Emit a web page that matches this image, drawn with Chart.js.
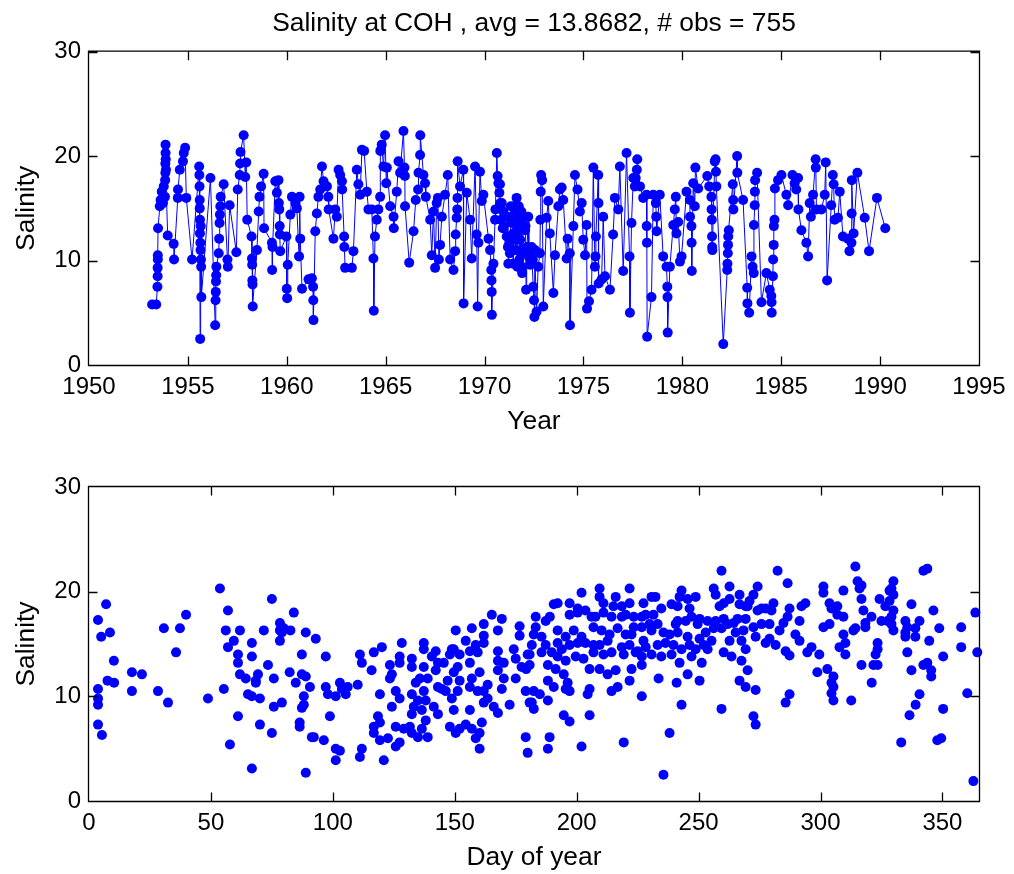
<!DOCTYPE html>
<html><head><meta charset="utf-8">
<script src="https://cdn.jsdelivr.net/npm/chart.js@4.4.1/dist/chart.umd.min.js"></script>
<style>
html,body{margin:0;padding:0;background:#fff;}
#wrap{position:relative;width:1014px;height:874px;background:#fff;}
#c1{position:absolute;left:0;top:0;}
#c2{position:absolute;left:0;top:440px;}
</style></head>
<body><div id="wrap"><canvas id="c1" width="1014" height="440"></canvas><canvas id="c2" width="1014" height="434"></canvas></div>
<script>
// ---------------- DATA ----------------
const chartTitle = "Salinity at COH , avg = 13.8682, # obs = 755";
const yearTicks = [1950,1955,1960,1965,1970,1975,1980,1985,1990,1995];
const dayTicks = [0,50,100,150,200,250,300,350];
const salinityTicks = [0,10,20,30];

// [decimal year, salinity] in time order
const yearSeries = [
[1953.19,5.8],[1953.40,5.8],[1953.46,7.5],[1953.47,8.5],[1953.47,9.3],[1953.48,10.1],[1953.48,10.5],[1953.49,13.1],[1953.58,15.2],[1953.62,15.8],
[1953.68,16.6],[1953.74,15.5],[1953.78,17.1],[1953.84,16.1],[1953.85,17.7],[1953.86,18.4],[1953.86,19.3],[1953.87,20.3],[1953.87,21.1],[1953.88,19.7],
[1953.89,18.7],[1953.98,12.4],[1954.28,11.6],[1954.30,10.1],[1954.49,16.0],[1954.50,16.8],[1954.59,18.7],[1954.75,19.5],[1954.79,20.3],[1954.86,20.8],
[1954.92,16.0],[1955.21,10.1],[1955.57,19.0],[1955.58,18.2],[1955.59,17.1],[1955.60,15.8],[1955.60,15.0],[1955.61,13.9],[1955.61,12.6],[1955.62,2.5],
[1955.63,11.7],[1955.64,11.0],[1955.65,13.3],[1955.66,10.1],[1955.67,9.4],[1955.68,6.5],[1956.14,17.9],[1956.38,3.8],[1956.40,6.2],[1956.41,7.0],
[1956.42,8.0],[1956.43,8.6],[1956.44,9.4],[1956.56,10.7],[1956.58,12.1],[1956.60,13.6],[1956.62,14.4],[1956.64,15.2],[1956.66,16.1],[1956.81,17.3],
[1957.00,10.1],[1957.02,9.4],[1957.11,15.3],[1957.45,10.8],[1957.52,16.8],[1957.62,18.2],[1957.64,19.3],[1957.66,20.4],[1957.82,22.0],[1957.90,18.0],
[1957.95,19.4],[1958.00,13.9],[1958.22,12.3],[1958.24,10.2],[1958.25,9.6],[1958.26,8.1],[1958.27,7.7],[1958.28,5.6],[1958.49,11.0],[1958.58,14.7],
[1958.62,16.1],[1958.70,17.1],[1958.83,18.3],[1958.85,13.1],[1959.25,11.7],[1959.26,9.1],[1959.28,11.3],[1959.42,17.6],[1959.50,16.5],[1959.58,17.7],
[1959.60,15.5],[1959.62,14.9],[1959.64,13.3],[1959.65,12.5],[1959.67,10.9],[1959.98,12.3],[1960.00,7.3],[1960.02,6.4],[1960.05,9.6],[1960.18,14.4],
[1960.26,16.1],[1960.43,15.5],[1960.51,15.0],[1960.62,10.4],[1960.65,16.1],[1960.68,12.1],[1960.77,7.3],[1961.10,8.2],[1961.27,8.3],[1961.33,7.5],
[1961.34,6.2],[1961.35,4.3],[1961.44,12.8],[1961.52,14.5],[1961.60,16.1],[1961.69,16.8],[1961.78,19.0],[1961.86,17.6],[1962.03,17.1],[1962.10,16.1],
[1962.12,14.9],[1962.36,12.1],[1962.45,14.9],[1962.53,14.2],[1962.62,18.7],[1962.70,18.2],[1962.79,17.6],[1962.80,16.8],[1962.90,12.3],[1962.91,11.3],
[1962.95,9.3],[1963.29,9.3],[1963.37,10.9],[1963.54,18.7],[1963.62,17.3],[1963.71,16.3],[1963.80,20.6],[1963.91,20.5],[1964.05,16.6],[1964.13,14.9],
[1964.30,14.9],[1964.38,10.2],[1964.40,5.2],[1964.46,12.3],[1964.55,13.9],[1964.63,14.9],[1964.72,16.1],[1964.73,20.5],[1964.80,21.1],[1964.89,19.0],
[1964.97,22.0],[1965.03,17.4],[1965.06,18.9],[1965.23,15.2],[1965.40,14.2],[1965.41,13.1],[1965.56,16.6],[1965.65,19.5],[1965.73,18.4],[1965.90,22.4],
[1965.95,18.9],[1965.97,18.1],[1965.98,15.2],[1966.19,9.8],[1966.41,12.8],[1966.52,15.8],[1966.64,16.8],[1966.66,18.4],[1966.74,20.1],[1966.75,22.0],
[1966.91,18.2],[1966.99,17.4],[1967.03,16.1],[1967.25,13.9],[1967.33,10.5],[1967.42,14.7],[1967.50,9.3],[1967.58,15.5],[1967.64,16.0],[1967.69,10.1],
[1967.75,11.5],[1967.84,14.2],[1968.00,16.3],[1968.14,18.2],[1968.26,10.1],[1968.43,9.1],[1968.51,10.9],[1968.54,12.5],[1968.59,14.1],[1968.62,14.9],
[1968.63,16.0],[1968.64,19.5],[1968.76,17.1],[1968.93,18.7],[1968.94,5.9],[1969.10,16.5],[1969.27,13.9],[1969.35,10.2],[1969.52,19.0],[1969.60,12.5],
[1969.65,5.6],[1969.69,11.7],[1969.77,18.5],[1969.86,15.7],[1969.94,16.3],[1970.20,12.1],[1970.28,11.0],[1970.34,9.1],[1970.35,8.1],[1970.36,7.0],
[1970.37,4.8],[1970.45,9.7],[1970.53,13.9],[1970.55,14.9],[1970.62,20.3],[1970.66,18.1],[1970.70,17.4],[1970.75,16.5],[1970.78,17.3],[1970.80,15.5],
[1970.84,13.9],[1970.87,15.5],[1970.92,13.1],[1970.95,14.7],
[1970.97,13.3],[1971.12,12.3],[1971.15,14.2],[1971.18,11.3],[1971.20,9.7],[1971.25,11.7],[1971.28,10.7],[1971.33,15.2],[1971.37,13.9],[1971.40,13.6],
[1971.44,9.7],[1971.46,12.6],[1971.50,14.4],[1971.52,12.0],[1971.54,15.2],[1971.58,11.0],[1971.62,16.0],[1971.66,9.4],[1971.70,14.5],[1971.71,12.9],
[1971.73,15.2],[1971.76,10.1],[1971.78,13.6],[1971.80,12.0],[1971.82,13.9],[1971.84,10.7],[1971.86,14.7],[1971.88,9.4],[1971.89,9.1],[1971.90,8.8],
[1971.96,14.2],[1972.05,12.9],[1972.07,13.3],[1972.10,7.2],[1972.13,10.7],[1972.15,11.3],[1972.21,14.2],[1972.24,10.4],[1972.30,9.6],[1972.36,11.0],
[1972.38,11.3],[1972.40,10.1],[1972.44,10.1],[1972.46,7.5],[1972.50,6.2],[1972.52,4.6],[1972.55,11.0],[1972.63,5.1],[1972.71,9.4],[1972.80,10.7],
[1972.82,13.9],[1972.84,16.6],[1972.86,18.2],[1972.91,17.7],[1972.97,5.6],
[1973.14,14.1],[1973.22,15.7],[1973.30,12.6],[1973.48,6.9],[1973.56,10.5],[1973.73,15.2],[1973.81,16.8],[1973.90,17.0],[1973.98,15.8],[1974.15,10.2],
[1974.20,12.1],[1974.31,10.7],[1974.32,3.8],[1974.49,13.3],[1974.57,18.2],[1974.70,16.8],[1974.82,14.7],[1974.91,15.5],[1974.99,12.0],[1975.08,10.5],
[1975.16,13.4],[1975.18,5.4],[1975.28,6.1],[1975.41,7.2],[1975.50,18.9],[1975.58,9.4],[1975.61,10.4],[1975.63,12.3],[1975.75,18.2],[1975.76,15.5],
[1975.77,7.8],[1975.92,8.2],[1976.00,14.2],[1976.09,8.5],[1976.34,7.2],[1976.50,12.5],[1976.59,16.0],[1976.76,14.9],[1976.84,19.0],[1977.01,9.0],
[1977.18,20.3],[1977.33,10.4],[1977.35,5.0],[1977.43,13.6],[1977.52,17.9],[1977.60,17.1],[1977.64,17.9],[1977.70,18.7],[1977.72,19.7],[1977.86,17.1],
[1978.02,16.0],[1978.19,16.3],[1978.20,13.3],[1978.21,11.7],[1978.22,2.7],[1978.44,6.5],[1978.53,16.3],[1978.66,15.5],[1978.68,14.2],[1978.70,12.8],
[1978.86,16.3],[1979.03,10.4],[1979.20,9.4],[1979.24,7.5],[1979.25,6.5],[1979.26,3.1],[1979.37,9.4],[1979.54,13.4],[1979.62,14.9],[1979.67,16.1],
[1979.70,12.6],[1979.79,13.7],[1979.88,9.9],[1979.96,10.4],[1980.21,16.6],[1980.38,15.8],[1980.39,14.2],[1980.46,13.3],[1980.47,11.7],[1980.48,9.0],
[1980.55,17.4],[1980.63,15.2],[1980.66,18.9],[1980.80,16.9],[1981.26,18.1],[1981.36,17.1],[1981.47,16.1],[1981.48,14.9],[1981.49,13.9],[1981.50,12.3],
[1981.51,11.3],[1981.52,11.0],[1981.64,19.5],[1981.68,19.7],[1981.70,18.5],[1981.72,17.1],[1982.07,2.0],[1982.27,9.1],[1982.28,9.7],[1982.30,10.7],
[1982.31,11.5],[1982.32,12.3],[1982.35,12.9],[1982.55,17.3],[1982.57,15.8],[1982.58,14.9],[1982.77,20.0],[1982.78,18.4],[1983.07,15.8],[1983.28,7.4],
[1983.29,5.9],[1983.38,5.0],[1983.50,10.4],[1983.55,9.4],[1983.61,8.8],[1983.62,13.4],[1983.66,15.3],[1983.67,16.6],[1983.68,17.7],[1983.78,18.4],
[1984.00,6.0],[1984.25,8.8],[1984.42,7.2],[1984.50,6.6],[1984.51,6.0],[1984.52,5.0],[1984.58,8.5],[1984.59,10.1],[1984.62,11.5],[1984.63,13.3],
[1984.66,13.9],[1984.68,16.9],[1984.84,17.7],[1985.01,18.2],[1985.26,16.3],[1985.35,15.3],[1985.57,18.2],[1985.68,17.4],[1985.76,16.8],[1985.85,17.9],
[1985.87,14.9],[1986.02,12.9],[1986.27,11.7],[1986.36,10.4],[1986.44,15.5],[1986.50,14.2],[1986.61,16.3],[1986.74,19.7],[1986.75,18.9],[1986.78,14.9],
[1987.03,14.9],[1987.20,16.3],[1987.25,19.4],[1987.32,8.1],[1987.53,15.3],[1987.61,18.2],[1987.65,17.3],[1987.70,13.9],[1987.87,14.1],[1987.96,16.6],
[1988.12,12.3],[1988.37,12.1],[1988.45,10.9],[1988.55,11.7],[1988.56,14.5],[1988.57,17.7],[1988.66,12.6],[1988.85,18.4],[1989.22,14.1],[1989.44,10.9],
[1989.84,16.0],[1990.26,13.1]
];

// [day of year, salinity]
const daySeries = [
[53.7,20.3],[7.0,18.8],[3.7,17.3],[5.0,15.7],[8.6,16.1],[10.2,13.4],[7.6,11.5],[10.3,11.3],[3.7,10.7],[3.7,9.8],
[3.7,9.2],[3.7,7.3],[5.3,6.3],[17.6,12.3],[21.7,12.1],[17.6,10.5],[28.3,10.5],[32.4,9.4],[30.7,16.5],[37.3,16.5],
[39.8,17.8],[35.7,14.2],[48.8,9.8],[55.3,10.7],[57.0,18.2],[56.1,16.3],[57.0,14.7],[59.4,15.3],[61.9,16.3],[61.1,14.0],
[61.1,13.2],[61.9,12.1],[64.3,11.7],[66.8,15.1],[66.8,13.8],[65.2,10.2],[66.8,10.0],[70.1,9.8],[68.4,11.5],[69.3,12.1],
[68.4,11.3],[61.1,8.1],[57.8,5.4],[66.8,3.1],[70.1,7.3],[75.0,6.5],[73.4,13.0],[71.7,16.3],[75.0,19.3],[78.3,17.0],
[78.3,16.3],[79.9,16.5],[79.1,16.1],[78.3,15.3],[82.6,16.3],[84.0,18.0],[75.8,11.7],[79.1,9.4],[75.8,9.0],[82.3,12.3],
[84.8,11.3],[87.3,14.0],[88.9,16.1],[87.3,12.1],[88.9,11.9],[88.1,10.0],[88.1,9.2],[87.3,8.9],[86.4,7.5],[86.4,7.1],
[88.9,2.7],[90.6,10.9],[91.4,6.1],
[93.0,15.5],[97.1,13.8],[97.1,10.9],[98.0,10.2],[101.2,10.0],[102.9,11.3],[103.7,10.7],[105.3,10.2],[106.1,10.9],[110.2,11.1],
[98.8,8.1],[92.2,6.1],[96.3,5.8],[101.2,5.0],[102.9,4.8],[101.2,3.9],[111.1,4.2],[111.9,5.0],[120.9,3.9],[111.1,14.0],
[111.9,13.2],[116.8,14.2],[120.1,14.7],[115.9,12.5],[123.4,13.0],[128.3,15.1],[127.4,13.8],[127.4,13.2],[132.4,13.6],[132.4,12.8],
[137.3,15.1],[137.3,14.5],[137.3,12.8],[142.2,14.3],[140.6,13.8],[142.2,12.5],[143.1,13.2],[145.5,13.2],[148.0,14.0],[148.8,14.5],
[149.6,14.5],[150.4,16.3],[152.0,14.0],[151.2,12.8],[149.6,12.3],[154.5,15.3],[157.0,16.5],[156.2,14.3],[156.2,13.2],[158.6,14.9],
[159.4,14.2],[161.9,16.9],[161.9,15.8],[161.9,15.1],[165.2,17.8],[169.3,17.4],[167.7,16.3],[167.7,14.3],[167.7,13.4],[170.1,13.2],
[167.7,12.5],[170.1,11.7],[169.3,10.7],[172.5,9.2],[174.2,14.5],[175.0,13.6],[176.6,16.7],[176.6,15.8],[177.4,12.8],[179.9,14.0],
[175.0,11.7],[179.1,10.5],[180.7,9.4],[179.1,6.1],[179.9,4.6],[123.4,11.7],[124.2,12.1],[119.3,10.2],[125.8,10.5],[127.4,9.8],
[124.2,9.0],[118.5,8.1],[119.3,7.5],[116.8,7.1],[116.8,6.5],[125.8,7.1],[119.3,5.8],[122.6,6.0],[125.8,5.2],[127.4,5.6],
[129.1,6.9],[131.6,7.1],[132.4,6.5],[134.9,6.1],[138.9,6.1],[136.5,6.9],[138.1,7.7],[132.4,8.3],[133.2,9.0],[134.9,9.6],
[132.4,10.2],[134.0,11.3],[135.7,11.7],[138.9,11.7],[137.3,10.5],[138.1,9.6],[136.5,8.7],[141.4,9.0],[143.1,8.3],[143.1,10.9],
[144.7,10.7],[147.1,11.5],[146.3,10.5],[148.8,9.8],[149.6,8.7],[152.0,11.5],[151.2,10.5],[148.0,7.1],[150.4,6.5],[152.0,6.9],
[154.5,7.3],[157.0,6.9],[158.6,6.0],[160.2,5.0],[161.1,7.5],[160.2,6.5],[156.2,8.7],[157.0,11.7],[156.2,10.9],[160.2,12.3],
[159.4,10.5],[161.9,10.5],[163.5,11.1],[161.9,9.4],[163.5,9.8],[166.0,9.0],[167.7,8.4],
[259.4,22.0],[262.7,20.5],[256.2,20.3],[257.0,19.7],[243.0,20.1],[248.8,19.5],[245.5,19.3],[266.8,19.7],[209.4,20.3],[221.7,20.3],
[202.0,19.9],[192.2,18.9],[190.6,18.8],[197.1,18.9],[200.4,18.4],[209.4,19.5],[216.0,19.5],[211.0,18.9],[215.1,18.6],[221.7,18.9],
[218.5,18.6],[230.7,19.5],[232.3,19.5],[227.4,18.9],[238.9,18.8],[234.7,18.4],[241.4,18.6],[242.2,19.5],[246.3,18.4],[247.1,17.6],
[258.6,18.6],[260.3,18.9],[262.7,19.3],[266.8,18.8],[269.3,18.6],[183.2,17.6],[189.0,17.6],[187.3,17.2],[183.2,16.6],[197.1,17.8],
[200.4,18.0],[203.6,18.2],[206.1,17.6],[207.7,17.6],[211.0,18.0],[214.3,17.6],[218.5,17.6],[220.1,17.8],[223.4,17.6],[226.7,17.6],
[228.3,17.8],[231.5,17.8],[233.2,16.9],[229.9,16.9],[226.7,16.6],[241.4,17.2],[240.6,16.9],[244.7,17.2],[250.4,17.4],[249.6,16.9],
[253.7,17.2],[257.0,17.2],[260.3,17.4],[264.4,17.0],[266.0,17.4],[269.3,17.4],[268.4,16.3],[265.2,16.1],[261.9,16.9],[259.4,16.5],
[256.2,16.5],[252.9,16.1],[182.4,15.9],[185.6,15.7],[192.2,16.3],[195.5,15.7],[198.8,16.3],[202.0,15.7],[206.9,16.6],[210.2,16.3],
[213.5,15.9],[216.8,16.5],[220.1,15.9],[223.4,16.6],[222.5,15.9],[227.4,15.3],[230.7,16.3],[235.6,16.1],[238.1,15.9],[241.4,16.1],
[245.5,15.7],[250.4,15.5],[252.1,14.9],[255.3,15.3],[262.7,15.3],[267.6,15.3],[181.6,14.9],[187.3,14.9],[192.2,15.1],[189.8,14.2],
[193.9,14.5],[197.1,14.9],[200.4,15.1],[203.6,15.1],[206.9,14.9],[209.4,14.9],[212.7,15.3],[218.5,14.7],[221.7,14.9],[225.0,14.3],
[228.3,14.7],[233.2,14.9],[236.4,15.1],[239.7,14.9],[243.0,14.5],[246.3,14.9],[248.8,14.5],[253.7,14.5],[260.3,14.2],[263.5,13.8],
[267.6,13.4],[180.7,14.0],[185.6,14.2],[192.2,13.8],[195.5,13.4],[199.6,13.8],[202.8,13.6],[206.9,14.2],[211.0,14.0],[214.3,14.2],
[219.3,14.0],[224.2,14.2],[226.7,13.8],[230.7,14.0],[234.7,13.8],[238.9,14.0],[242.2,13.2],[247.1,13.8],[251.3,13.2],[180.7,13.0],
[188.2,13.0],[191.4,12.6],[194.7,12.1],[205.3,12.6],[209.4,12.6],[212.7,12.1],[216.0,12.5],[222.5,12.6],[226.7,13.0],[221.7,11.5],
[233.6,11.7],[241.0,11.3],[245.5,12.1],[250.4,11.5],[266.8,11.5],[270.1,12.5],[269.3,10.9],[179.3,12.6],[182.4,10.5],[184.9,10.2],
[188.2,9.6],[181.6,9.4],[182.4,8.8],[188.2,11.5],[190.6,10.9],[196.3,11.3],[197.1,10.5],[195.5,10.7],[205.3,10.7],[204.5,10.2],
[214.3,10.5],[216.8,10.9],[226.7,10.0],[243.0,9.2],[259.4,8.8],[194.7,8.2],[197.1,7.6],[205.3,8.2],[188.9,6.1],[188.2,5.0],
[202.0,5.2],[219.3,5.6],[238.1,6.5],[235.6,2.5],
[282.4,22.0],[286.5,20.8],[274.2,20.5],[272.5,19.7],[270.9,19.1],[270.1,18.6],[280.7,18.9],[277.5,18.4],[274.2,18.2],[275.8,18.4],
[279.9,18.2],[287.3,18.4],[286.5,17.6],[284.8,17.0],[291.4,17.2],[292.2,18.6],[293.8,18.9],[283.2,16.3],[279.1,16.9],[275.8,16.9],
[272.5,16.6],[273.4,15.7],[277.5,15.1],[279.1,15.5],[281.6,14.9],[269.3,14.5],[273.4,10.6],[272.5,8.1],[273.4,7.3],[285.7,14.3],
[287.3,13.9],[289.7,15.9],[291.4,15.3],[296.3,14.7],[294.6,14.2],[299.5,14.0],[298.7,12.3],[302.8,12.6],[305.3,11.9],[304.5,11.3],
[305.3,10.9],[304.5,10.3],[305.3,9.6],[287.3,10.2],[285.7,9.4],[312.6,9.6],[301.2,20.5],[301.2,19.9],[309.4,20.1],[314.3,22.4],
[315.2,21.0],[316.8,20.6],[316.0,20.3],[316.8,19.3],[303.7,18.9],[306.9,18.6],[304.5,18.4],[306.9,17.8],[309.4,17.6],[317.6,18.2],
[320.9,17.6],[318.4,17.0],[318.4,16.6],[314.3,16.5],[313.5,16.3],[303.7,16.9],[301.2,16.6],[309.4,15.9],[310.2,15.1],[307.8,14.7],
[310.2,14.0],[323.4,15.1],[323.4,14.5],[322.6,14.0],[321.7,13.0],[323.4,13.0],[316.8,13.0],[321.0,11.3],[324.2,19.3],[328.3,20.1],
[329.9,21.0],[329.1,20.3],[329.9,19.7],[328.3,19.1],[326.6,18.6],[329.9,18.2],[329.1,17.6],[327.5,17.2],[325.0,17.2],[329.1,16.9],
[329.9,16.3],[337.3,18.8],[342.2,22.0],[343.8,22.2],[346.3,18.2],[334.8,17.2],[340.6,17.2],[335.6,16.6],[338.9,16.5],[334.8,16.1],
[334.8,15.7],[338.9,15.7],[348.7,16.5],[344.6,15.3],[335.6,14.2],[350.3,13.8],[342.2,13.0],[343.8,13.2],[345.4,12.5],[345.4,11.9],
[337.3,12.5],[340.6,10.2],[339.0,9.2],[336.5,8.2],[350.3,8.8],[333.1,5.6],[347.9,5.8],[349.5,6.0],[357.7,16.6],[357.7,14.7],
[363.5,18.0],[364.3,14.2],[360.2,10.3],[362.7,1.9]
];

// ---------------- STYLE / LAYOUT ----------------
const FONT = "'Liberation Sans', Arial, Helvetica, sans-serif";
const BLUE = '#0000ff';
Chart.defaults.color = '#000';
Chart.defaults.font.family = FONT;

const framePlugin = {
  id: 'matlabFrame',
  afterDatasetsDraw(chart) {
    const {ctx, chartArea: a, scales: {x, y}} = chart;
    ctx.save();
    ctx.strokeStyle = '#000';
    ctx.lineWidth = 1.3;
    const L = a.left - 0.5, R = a.right + 0.5, T = a.top - 0.5, B = a.bottom + 0.5;
    const tl = 9;
    ctx.beginPath();
    ctx.rect(L, T, R - L, B - T);
    x.ticks.forEach(t => {
      const px = Math.round(x.getPixelForValue(t.value)) + 0.5;
      if (px <= L + 1 || px >= R - 1) return;
      ctx.moveTo(px, B); ctx.lineTo(px, B - tl);
      ctx.moveTo(px, T); ctx.lineTo(px, T + tl);
    });
    y.ticks.forEach(t => {
      const py = Math.round(y.getPixelForValue(t.value)) + 0.5;
      if (py <= T + 1 || py >= B - 1) return;
      ctx.moveTo(L, py); ctx.lineTo(L + tl, py);
      ctx.moveTo(R, py); ctx.lineTo(R - tl, py);
    });
    ctx.stroke();
    ctx.restore();
  }
};

function axisX(min, max, tickVals, title, h, titlePad) {
  return {
    type: 'linear', min, max,
    grid: {display: false, drawTicks: false},
    border: {display: false},
    afterBuildTicks: s => { s.ticks = tickVals.map(v => ({value: v})); },
    afterFit: s => { s.height = h; },
    ticks: {autoSkip: false, maxRotation: 0, padding: 8, color: '#000',
            font: {size: 24, family: FONT}, callback: v => String(v)},
    title: {display: true, text: title, color: '#000',
            font: {size: 26.4, family: FONT}, padding: {top: 0, bottom: titlePad}}
  };
}
function axisY(title) {
  return {
    type: 'linear', min: 0, max: 30,
    grid: {display: false, drawTicks: false},
    border: {display: false},
    afterBuildTicks: s => { s.ticks = salinityTicks.map(v => ({value: v})); },
    afterFit: s => { s.width = 89; },
    ticks: {padding: 8, color: '#000', font: {size: 24, family: FONT}, callback: v => String(v)},
    title: {display: true, text: title, color: '#000',
            font: {size: 26.4, family: FONT}, padding: {top: 11, bottom: 0}}
  };
}

new Chart(document.getElementById('c1'), {
  type: 'scatter',
  data: {datasets: [{
    data: yearSeries.map(p => ({x: p[0], y: p[1]})),
    showLine: true, borderColor: BLUE, borderWidth: 1,
    pointRadius: 5, pointBackgroundColor: BLUE, pointBorderWidth: 0, pointHoverRadius: 5,
    clip: false
  }]},
  options: {
    responsive: false, animation: false, devicePixelRatio: 1,
    layout: {padding: {left: 0, right: 35, top: 0, bottom: 0}},
    plugins: {
      legend: {display: false}, tooltip: {enabled: false},
      title: {display: true, fullSize: false, text: chartTitle, color: '#000',
              font: {size: 26.4, weight: 'normal', family: FONT, lineHeight: 1.2},
              padding: {top: 8, bottom: 12}}
    },
    scales: {x: axisX(1950, 1995, yearTicks, 'Year', 75, 2), y: axisY('Salinity')}
  },
  plugins: [framePlugin]
});

new Chart(document.getElementById('c2'), {
  type: 'scatter',
  data: {datasets: [{
    data: daySeries.map(p => ({x: p[0], y: p[1]})),
    showLine: false,
    pointRadius: 5, pointBackgroundColor: BLUE, pointBorderWidth: 0, pointHoverRadius: 5,
    clip: false
  }]},
  options: {
    responsive: false, animation: false, devicePixelRatio: 1,
    layout: {padding: {left: 0, right: 35, top: 47, bottom: 0}},
    plugins: {legend: {display: false}, tooltip: {enabled: false}, title: {display: false}},
    scales: {x: axisX(0, 365, dayTicks, 'Day of year', 73, 0), y: axisY('Salinity')}
  },
  plugins: [framePlugin]
});
</script>
</body></html>
